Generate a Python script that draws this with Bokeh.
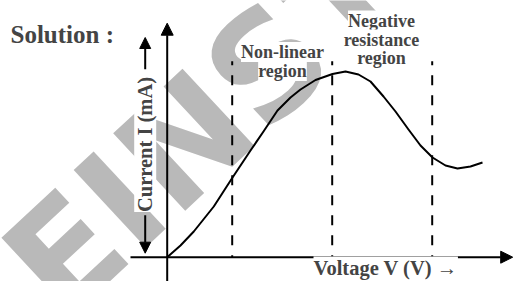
import math
from bokeh.plotting import figure
from bokeh.models import Range1d, Label, Arrow, NormalHead
from bokeh.core.properties import value
from bokeh.embed import file_html
from bokeh.resources import INLINE

# ---- data (arbitrary units) ----
voltage = [0, 1.33, 2.66, 4.66, 6.5, 8.33, 9.63, 11.03, 12.33, 13.33, 14.83, 16.53,
           17.83, 19.13, 20.33, 21.63, 22.83, 24.13, 25.33, 26.53, 27.83, 29.03, 30.33, 31.53]
current = [0, 1.17, 2.57, 5.07, 7.92, 10.67, 12.57, 14.67, 15.97, 16.77, 17.72, 18.32,
           18.57, 18.27, 17.57, 16.07, 14.57, 12.77, 11.17, 9.97, 9.17, 8.87, 9.07, 9.47]
region_bounds = [6.5, 16.5, 26.5]
region_top = 19.6

title_text = "Solution :"
x_label = "Voltage V (V) \u2192"
y_label = "Current I (mA)"
region_labels = [["Non-linear", "region"], ["Negative", "resistance", "region"]]
watermark = "EINSTEIN"

FONT = "Liberation Serif"

p = figure(width=513, height=281, output_backend="svg", toolbar_location=None,
           x_range=Range1d(-16.67, 34.63), y_range=Range1d(-2.43, 25.67),
           x_axis_location=None, y_axis_location=None, min_border=0,
           outline_line_color=None)
p.xgrid.visible = False
p.ygrid.visible = False

# watermark (below everything)
p.text(x=[-13.8], y=[-3.0], text=[watermark], angle=math.radians(43),
       text_font=value("DejaVu Sans"), text_font_style="bold",
       text_font_size="145px", text_color="#b9b9b9",
       text_align="left", text_baseline="alphabetic")

# region boundaries
p.segment(x0=region_bounds, y0=[region_top] * 3, x1=region_bounds, y1=[0] * 3,
          line_color="black", line_width=2, line_dash="10 10", line_dash_offset=6)

# characteristic curve
p.line(voltage, current, line_color="black", line_width=2, line_join="round")

# axes with arrows
p.add_layout(Arrow(end=NormalHead(size=12, fill_color="black", line_color="black"),
                   x_start=0, y_start=-2.6, x_end=0, y_end=23.4,
                   line_color="black", line_width=2))
p.add_layout(Arrow(end=NormalHead(size=12, fill_color="black", line_color="black"),
                   x_start=-3.67, y_start=0, x_end=34.55, y_end=0,
                   line_color="black", line_width=2))

# current label arrows
p.add_layout(Arrow(end=NormalHead(size=11, fill_color="black", line_color="black"),
                   x_start=-2.2, y_start=18.8, x_end=-2.2, y_end=21.97,
                   line_color="black", line_width=2))
p.add_layout(Arrow(end=NormalHead(size=11, fill_color="black", line_color="black"),
                   x_start=-2.2, y_start=4.2, x_end=-2.2, y_end=0.4,
                   line_color="black", line_width=2))

# texts
p.add_layout(Label(x=-15.67, y=22.3, text=title_text, text_font=FONT,
                   text_font_style="bold", text_font_size="25px",
                   text_align="left", text_baseline="alphabetic"))
p.add_layout(Label(x=-2.2, y=11.27, text=y_label, angle=90, angle_units="deg",
                   text_font=FONT, text_font_style="bold", text_font_size="20.5px",
                   text_align="center", text_baseline="middle",
                   background_fill_color="white"))
p.add_layout(Label(x=14.63, y=-1.03, text=x_label, text_font=FONT,
                   text_font_style="bold", text_font_size="20.5px",
                   text_align="left", text_baseline="alphabetic",
                   background_fill_color="white"))

label_x = [11.53, 21.43]
label_y = [[20.52, 18.62], [23.66, 21.77, 19.88]]
for lines, lx, ys in zip(region_labels, label_x, label_y):
    for line, ly in zip(lines, ys):
        p.add_layout(Label(x=lx, y=ly, text=line, text_font=FONT,
                           text_font_style="bold", text_font_size="18px",
                           text_align="center", text_baseline="middle",
                           background_fill_color="white"))

open("out.html", "w").write(file_html(p, INLINE))
